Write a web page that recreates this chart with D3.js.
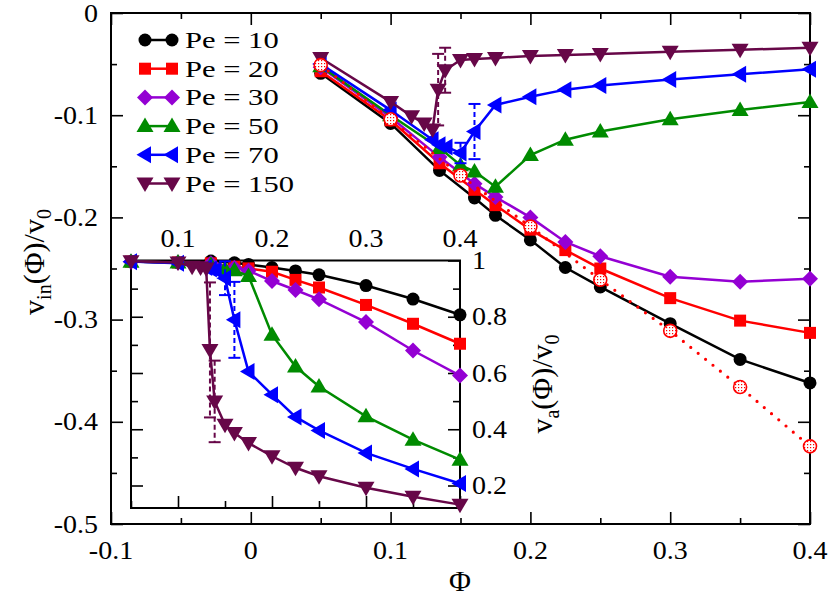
<!DOCTYPE html>
<html><head><meta charset="utf-8">
<script src="https://cdn.jsdelivr.net/npm/d3@7"></script>
<style>body{margin:0;background:#fff}svg{display:block}
svg text{font-family:"Liberation Serif","Times New Roman","DejaVu Serif",serif;}</style>
</head><body><svg id="c" width="830" height="596"></svg>
<script>
// ---------- data ----------
const phiA   = [0.05,0.1,0.135,0.16,0.175,0.2,0.225,0.25,0.3,0.35,0.4];   // Pe 10, 20, 30
const main10 = [-0.059,-0.108,-0.154,-0.181,-0.198,-0.222,-0.249,-0.268,-0.304,-0.339,-0.362];
const inset10= [0.996,0.992,0.998,0.992,0.986,0.975,0.963,0.949,0.911,0.863,0.807];
const main20 = [-0.057,-0.105,-0.147,-0.173,-0.188,-0.212,-0.232,-0.250,-0.279,-0.301,-0.313];
const inset20= [0.996,0.993,0.99,0.978,0.972,0.96,0.931,0.904,0.842,0.775,0.704];
const main30 = [-0.053,-0.102,-0.141,-0.167,-0.180,-0.200,-0.224,-0.238,-0.258,-0.263,-0.260];
const inset30= [0.996,0.993,0.99,0.974,0.964,0.927,0.895,0.862,0.781,0.68,0.591];

const phi50  = [0.05,0.1,0.135,0.15,0.16,0.175,0.2,0.225,0.25,0.3,0.35,0.4];
const main50 = [-0.052,-0.100,-0.132,-0.149,-0.155,-0.170,-0.139,-0.124,-0.116,-0.104,-0.095,-0.087];
const inset50= [0.996,0.993,0.985,0.97,0.965,0.945,0.736,0.623,0.552,0.446,0.363,0.292];

const phi70  = [0.05,0.1,0.13,0.135,0.14,0.15,0.16,0.175,0.2,0.225,0.25,0.3,0.35,0.4];
const main70 = [-0.050,-0.095,-0.124,-0.129,-0.131,-0.137,-0.116,-0.090,-0.082,-0.075,-0.071,-0.065,-0.060,-0.055];
const inset70= [0.996,0.99,0.975,0.97,0.966,0.937,0.789,0.605,0.523,0.444,0.396,0.316,0.259,0.207];
const errMain70  = [0,0,0,0,0,0.010,0.027,0,0,0,0,0,0,0];
const errInset70 = [0,0,0,0,0,0.06,0.135,0,0,0,0,0,0,0];

const phi150  = [0.05,0.1,0.115,0.124,0.13,0.134,0.139,0.15,0.16,0.175,0.2,0.225,0.25,0.3,0.35,0.4];
const main150 = [-0.044,-0.087,-0.101,-0.108,-0.114,-0.075,-0.056,-0.046,-0.045,-0.044,-0.042,-0.041,-0.040,-0.038,-0.036,-0.034];
const inset150= [0.997,0.993,0.978,0.975,0.972,0.682,0.499,0.416,0.387,0.351,0.304,0.263,0.233,0.192,0.160,0.132];
const errMain150  = [0,0,0,0,0,0.035,0.022,0,0,0,0,0,0,0,0,0];
const errInset150 = [0,0,0,0,0,0.24,0.145,0,0,0,0,0,0,0,0,0];

const phiDot  = [0.05,0.1,0.15,0.2,0.25,0.3,0.35,0.4];
const mainDot = [-0.051,-0.104,-0.159,-0.209,-0.261,-0.311,-0.366,-0.424];

const legendLabels = ["Pe = 10","Pe = 20","Pe = 30","Pe = 50","Pe = 70","Pe = 150"];
const xTicks = [-0.1,0,0.1,0.2,0.3,0.4];
const xTickLabels = ["-0.1","0","0.1","0.2","0.3","0.4"];
const xMinor = [-0.05,0.05,0.15,0.25,0.35];
const yTicks = [0,-0.1,-0.2,-0.3,-0.4,-0.5];
const yTickLabels = ["0","-0.1","-0.2","-0.3","-0.4","-0.5"];
const yMinor = [-0.05,-0.15,-0.25,-0.35,-0.45];
const ixTicks = [0.1,0.2,0.3,0.4];
const ixTickLabels = ["0.1","0.2","0.3","0.4"];
const ixMinor = [0.05,0.15,0.25,0.35];
const iyTicks = [0.2,0.4,0.6,0.8,1.0];
const iyTickLabels = ["0.2","0.4","0.6","0.8","1"];
const iyMinor = [0.3,0.5,0.7,0.9];

// ---------- series table ----------
const series = [
  {phi:phiA,  m:main10,  i:inset10,  color:"#000000", sym:"circle"},
  {phi:phiA,  m:main20,  i:inset20,  color:"#ff0000", sym:"square"},
  {phi:phiA,  m:main30,  i:inset30,  color:"#9400d3", sym:"diamond"},
  {phi:phi50, m:main50,  i:inset50,  color:"#008b00", sym:"triUp"},
  {phi:phi70, m:main70,  i:inset70,  color:"#0000ff", sym:"triLeft", em:errMain70, ei:errInset70},
  {phi:phi150,m:main150, i:inset150, color:"#670748", sym:"triDown", em:errMain150, ei:errInset150}
];

// ---------- setup ----------
const svg = d3.select("#c");
const defs = svg.append("defs");
const pat = defs.append("pattern").attr("id","dots").attr("width",3).attr("height",3)
  .attr("patternUnits","userSpaceOnUse");
pat.append("rect").attr("width",3).attr("height",3).attr("fill","#fff");
pat.append("rect").attr("width",1.2).attr("height",1.2).attr("fill","#ff0000");

const x  = d3.scaleLinear([-0.1,0.4],[111,810]);
const y  = d3.scaleLinear([-0.5,0],[524,13]);
const xi = d3.scaleLinear([0.05,0.4],[131,460]);
const yi = d3.scaleLinear([0.12,1.0],[508,260.5]);

function marker(g, sym, cx, cy, color){
  let el;
  if(sym==="circle") el = g.append("circle").attr("cx",cx).attr("cy",cy).attr("r",6.5);
  else if(sym==="square") el = g.append("rect").attr("x",cx-6).attr("y",cy-6).attr("width",12).attr("height",12);
  else {
    const p = {
      diamond:"M0,-8L8,0L0,8L-8,0Z",
      triUp:"M0,-8.5L8.5,6L-8.5,6Z",
      triLeft:"M-8.5,0L6,-8.5L6,8.5Z",
      triDown:"M0,8.5L8.5,-6L-8.5,-6Z"
    }[sym];
    el = g.append("path").attr("d",p).attr("transform",`translate(${cx},${cy})`);
  }
  el.attr("fill",color);
}

function stretchText(g, str, tx, ty, size, sx, anchor){
  return g.append("text").attr("transform",`translate(${tx},${ty}) scale(${sx},1)`)
    .attr("text-anchor",anchor).attr("font-size",size)
    .attr("fill","#000").text(str);
}

function ticks(axisFn, scale, vals, len, tx, ty){
  const a = axisFn(scale).tickValues(vals).tickSize(-len).tickFormat("");
  const g = svg.append("g").attr("transform",`translate(${tx},${ty})`).call(a);
  g.select(".domain").remove();
  g.selectAll("line").attr("stroke","#000").attr("stroke-width",1.6);
}

// ---------- main axes ----------
ticks(d3.axisBottom, x, xTicks, 12, 0, 524);
ticks(d3.axisBottom, x, xMinor, 6, 0, 524);
ticks(d3.axisTop, x, xTicks, 12, 0, 13);
ticks(d3.axisTop, x, xMinor, 6, 0, 13);
ticks(d3.axisLeft, y, yTicks, 12, 111, 0);
ticks(d3.axisLeft, y, yMinor, 6, 111, 0);
ticks(d3.axisRight, y, yTicks, 12, 810, 0);
ticks(d3.axisRight, y, yMinor, 6, 810, 0);
svg.append("rect").attr("x",111).attr("y",13).attr("width",699).attr("height",511)
  .attr("fill","none").attr("stroke","#000").attr("stroke-width",2);

const labG = svg.append("g");
xTicks.forEach((v,k)=>stretchText(labG, xTickLabels[k], x(v), 559, 25, 1.12, "middle"));
yTicks.forEach((v,k)=>stretchText(labG, yTickLabels[k], 98, y(v)+8.5, 25, 1.12, "end"));

// axis titles
labG.append("text").attr("x",460).attr("y",591).attr("text-anchor","middle")
  .attr("font-size",30).text("Φ");
const tl = labG.append("text").attr("transform","translate(44,262) rotate(-90)")
  .attr("text-anchor","middle").attr("font-size",30);
tl.append("tspan").text("v");
tl.append("tspan").attr("font-size",20).attr("dy",7).text("in");
tl.append("tspan").attr("dy",-7).text("(Φ)/v");
tl.append("tspan").attr("font-size",20).attr("dy",7).text("0");

// ---------- main data ----------
const lineM = d3.line().x(d=>x(d[0])).y(d=>y(d[1]));
const mainG = svg.append("g");
series.forEach(s=>{
  const pts = s.phi.map((p,k)=>[p,s.m[k]]);
  mainG.append("path").attr("d",lineM(pts)).attr("fill","none")
    .attr("stroke",s.color).attr("stroke-width",2.5);
  if(s.em) s.phi.forEach((p,k)=>{
    const e = s.em[k]; if(!e) return;
    const cx = x(p), y1 = y(s.m[k]+e), y2 = y(s.m[k]-e);
    mainG.append("line").attr("x1",cx).attr("x2",cx).attr("y1",y1).attr("y2",y2)
      .attr("stroke",s.color).attr("stroke-width",2).attr("stroke-dasharray","5,3");
    [y1,y2].forEach(yy=>mainG.append("line").attr("x1",cx-6).attr("x2",cx+6)
      .attr("y1",yy).attr("y2",yy).attr("stroke",s.color).attr("stroke-width",2));
  });
  pts.forEach(d=>marker(mainG, s.sym, x(d[0]), y(d[1]), s.color));
});
// dotted open-circle series
const dotPts = phiDot.map((p,k)=>[p,mainDot[k]]);
mainG.append("path").attr("d",lineM(dotPts)).attr("fill","none").attr("stroke","#ff0000")
  .attr("stroke-width",3.2).attr("stroke-linecap","round").attr("stroke-dasharray","0,9.5");
dotPts.forEach(d=>mainG.append("circle").attr("cx",x(d[0])).attr("cy",y(d[1])).attr("r",6.5)
  .attr("fill","url(#dots)").attr("stroke","#ff0000").attr("stroke-width",1.6));

// ---------- legend ----------
const legG = svg.append("g");
series.forEach((s,k)=>{
  const ly = 40 + k*28.7;
  legG.append("line").attr("x1",145).attr("x2",172).attr("y1",ly).attr("y2",ly)
    .attr("stroke",s.color).attr("stroke-width",2.5);
  marker(legG, s.sym, 145, ly, s.color);
  marker(legG, s.sym, 172, ly, s.color);
  stretchText(legG, legendLabels[k], 185, ly+8, 23, 1.33, "start");
});

// ---------- inset ----------
svg.append("rect").attr("x",131).attr("y",260.5).attr("width",329).attr("height",247.5).attr("fill","#fff");
ticks(d3.axisBottom, xi, ixTicks, 12, 0, 508);
ticks(d3.axisBottom, xi, ixMinor, 7, 0, 508);
ticks(d3.axisLeft, yi, iyTicks, 12, 131, 0);
ticks(d3.axisLeft, yi, iyMinor, 7, 131, 0);
ticks(d3.axisRight, yi, iyTicks, 12, 460, 0);
ticks(d3.axisRight, yi, iyMinor, 7, 460, 0);
svg.append("rect").attr("x",131).attr("y",260.5).attr("width",329).attr("height",247.5)
  .attr("fill","none").attr("stroke","#000").attr("stroke-width",2);
ixTicks.forEach((v,k)=>stretchText(labG, ixTickLabels[k], xi(v), 246.5, 25, 1.12, "middle"));
iyTicks.forEach((v,k)=>stretchText(labG, iyTickLabels[k], 472, yi(v)+8.5, 25, 1.12, "start"));
const tr = svg.append("text").attr("transform","translate(552,384) rotate(-90)")
  .attr("text-anchor","middle").attr("font-size",30);
tr.append("tspan").text("v");
tr.append("tspan").attr("font-size",20).attr("dy",7).text("a");
tr.append("tspan").attr("dy",-7).text("(Φ)/v");
tr.append("tspan").attr("font-size",20).attr("dy",7).text("0");

const lineI = d3.line().x(d=>xi(d[0])).y(d=>yi(d[1]));
const inG = svg.append("g");
series.forEach(s=>{
  const pts = s.phi.map((p,k)=>[p,s.i[k]]);
  inG.append("path").attr("d",lineI(pts)).attr("fill","none")
    .attr("stroke",s.color).attr("stroke-width",2.5);
  if(s.ei) s.phi.forEach((p,k)=>{
    const e = s.ei[k]; if(!e) return;
    const cx = xi(p), y1 = yi(s.i[k]+e), y2 = yi(s.i[k]-e);
    inG.append("line").attr("x1",cx).attr("x2",cx).attr("y1",y1).attr("y2",y2)
      .attr("stroke",s.color).attr("stroke-width",2).attr("stroke-dasharray","5,3");
    [y1,y2].forEach(yy=>inG.append("line").attr("x1",cx-6).attr("x2",cx+6)
      .attr("y1",yy).attr("y2",yy).attr("stroke",s.color).attr("stroke-width",2));
  });
  pts.forEach(d=>marker(inG, s.sym, xi(d[0]), yi(d[1]), s.color));
});
</script></body></html>
